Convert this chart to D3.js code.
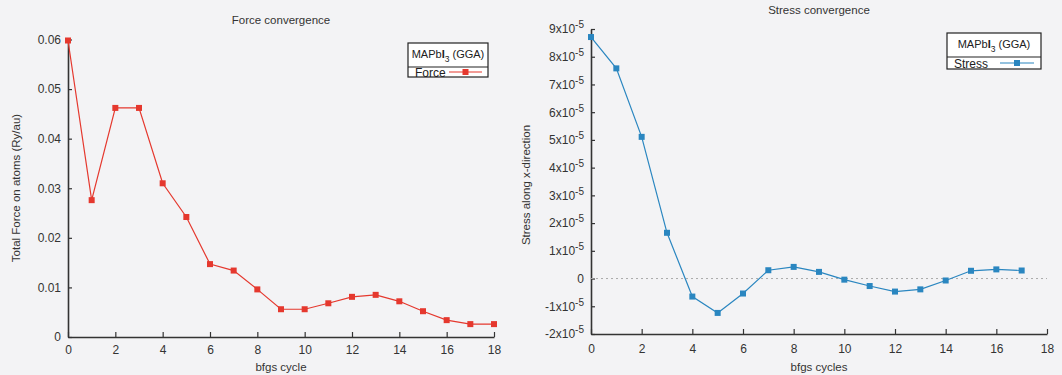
<!DOCTYPE html>
<html>
<head>
  <title>Force and stress convergence</title>
  <style>
    body { margin: 0; background: #f3f3f5; }
    svg { font-family: "Liberation Sans", Arial, sans-serif; }
  </style>
</head>
<body>
  <svg id="main" width="1062" height="375"></svg>

  <script src="https://cdn.jsdelivr.net/npm/d3@7.0.1/dist/d3.min.js"></script>
  <script>
    // force (Ry/au) per bfgs cycle
    const forceCycles = d3.range(0, 19)
    const forceValues = [0.0598, 0.0276, 0.0462, 0.0462, 0.0310, 0.0242, 0.0147, 0.0134, 0.0096,
      0.0056, 0.0056, 0.0068, 0.0081, 0.0085, 0.0072, 0.0052, 0.0034, 0.0026, 0.0026]

    // stress along x (units of 1e-5) per bfgs cycle
    const stressCycles = d3.range(0, 18)
    const stressValues = [8.71, 7.58, 5.11, 1.65, -0.65, -1.24, -0.54, 0.30, 0.42,
      0.24, -0.04, -0.27, -0.47, -0.39, -0.07, 0.28, 0.33, 0.29]

    const forceTicks = [0, 0.01, 0.02, 0.03, 0.04, 0.05, 0.06]
    const stressTicks = [-2, -1, 0, 1, 2, 3, 4, 5, 6, 7, 8, 9]
    const cycleTicks = [0, 2, 4, 6, 8, 10, 12, 14, 16, 18]

    const svg = d3.select('#main')
    const axisColor = '#333'
    const textColor = '#333'

    function panel(opt) {
      const g = svg.append('g')
      const x = d3.scaleLinear().domain([0, 18]).range([opt.x0, opt.x1])
      const y = d3.scaleLinear().domain(opt.yDomain).range([opt.y0, opt.y1])

      // y axis
      const yAxis = d3.axisLeft(y).tickValues(opt.yTicks).tickSizeInner(-4).tickSizeOuter(0)
        .tickPadding(7).tickFormat(opt.yFormat)
      const ya = g.append('g').attr('transform', `translate(${opt.x0},0)`).call(yAxis)
      // x axis
      const xAxis = d3.axisBottom(x).tickValues(cycleTicks).tickSizeInner(-5).tickSizeOuter(0)
        .tickPadding(opt.xPad)
      const xa = g.append('g').attr('transform', `translate(0,${opt.y0})`).call(xAxis)

      for (const a of [ya, xa]) {
        a.select('.domain').attr('stroke', axisColor).attr('stroke-width', 1.6)
        a.selectAll('.tick line').attr('stroke', axisColor).attr('stroke-width', 1.2)
        a.selectAll('.tick text').attr('fill', textColor).attr('font-size', 12)
          .attr('font-family', '"Liberation Sans", Arial, sans-serif')
      }
      if (opt.ySup) {
        ya.selectAll('.tick text').each(function (d) {
          const t = d3.select(this).text('')
          if (d === 0) { t.text('0'); return }
          t.append('tspan').text(d + 'x10')
          t.append('tspan').text('-5').attr('font-size', 10).attr('dy', -5)
        })
      }

      if (opt.zeroLine) {
        g.append('line').attr('x1', opt.x0).attr('x2', opt.x1)
          .attr('y1', y(0)).attr('y2', y(0))
          .attr('stroke', '#aaa').attr('stroke-width', 1).attr('stroke-dasharray', '2,3')
      }

      const pts = opt.xs.map((c, i) => ({ c: c, v: opt.values[i] }))
      g.append('path').datum(pts)
        .attr('fill', 'none').attr('stroke', opt.color).attr('stroke-width', 1.2)
        .attr('d', d3.line().x(d => x(d.c)).y(d => y(d.v)))
      g.selectAll('.pt').data(pts).join('rect')
        .attr('class', 'pt')
        .attr('x', d => x(d.c) - 3).attr('y', d => y(d.v) - 3)
        .attr('width', 6).attr('height', 6).attr('fill', opt.color)

      // titles
      g.append('text').text(opt.title).attr('x', opt.titleX).attr('y', opt.titleY)
        .attr('text-anchor', 'middle').attr('font-size', 11.5).attr('fill', textColor)
      g.append('text').text(opt.xLabel).attr('x', opt.titleX).attr('y', 371)
        .attr('text-anchor', 'middle').attr('font-size', 11.5).attr('fill', textColor)
      g.append('text').text(opt.yLabel)
        .attr('transform', `translate(${opt.yLabelX},${opt.yLabelY}) rotate(-90)`)
        .attr('text-anchor', 'middle').attr('font-size', 11.5).attr('fill', textColor)

      // legend
      const L = opt.legend
      const lg = g.append('g').attr('transform', `translate(${L.x},${L.y})`)
      lg.append('rect').attr('width', L.w).attr('height', L.h)
        .attr('fill', 'white').attr('stroke', '#222').attr('stroke-width', 1.2)
      lg.append('line').attr('x1', 0).attr('x2', L.w).attr('y1', L.sep).attr('y2', L.sep)
        .attr('stroke', '#222').attr('stroke-width', 1.2)
      const lt = lg.append('text').attr('x', L.w / 2).attr('y', L.sep - 9)
        .attr('text-anchor', 'middle').attr('font-size', 11).attr('fill', '#222')
      lt.append('tspan').text('MAPb')
      lt.append('tspan').text('I').attr('font-weight', 'bold')
      lt.append('tspan').text('3').attr('font-size', 8.5).attr('dy', 4)
      lt.append('tspan').text(' (GGA)').attr('dy', -4)
      const rowY = L.sep + (L.h - L.sep) / 2
      lg.append('text').text(opt.name).attr('x', 7).attr('y', rowY + 4.5)
        .attr('font-size', 12).attr('fill', '#222')
      lg.append('line').attr('x1', L.lineX0).attr('x2', L.lineX1).attr('y1', rowY).attr('y2', rowY)
        .attr('stroke', opt.color).attr('stroke-width', 1.2)
      lg.append('rect').attr('x', (L.lineX0 + L.lineX1) / 2 - 3).attr('y', rowY - 3)
        .attr('width', 6).attr('height', 6).attr('fill', opt.color)
    }

    panel({
      x0: 68, x1: 494, y0: 337, y1: 39.5, yDomain: [0, 0.06], yTicks: forceTicks,
      yFormat: d => d === 0 ? '0' : d3.format('.2f')(d), xPad: 8,
      xs: forceCycles, values: forceValues, color: '#e5382e', name: 'Force',
      title: 'Force convergence', titleX: 281, titleY: 24,
      xLabel: 'bfgs cycle', yLabel: 'Total Force on atoms (Ry/au)', yLabelX: 20, yLabelY: 188,
      legend: { x: 408, y: 43, w: 80, h: 34, sep: 24, lineX0: 41, lineX1: 74 }
    })

    panel({
      x0: 591, x1: 1047, y0: 334, y1: 29, yDomain: [-2, 9], yTicks: stressTicks,
      yFormat: d => d, ySup: true, xPad: 10, zeroLine: true,
      xs: stressCycles, values: stressValues, color: '#2a86c0', name: 'Stress',
      title: 'Stress convergence', titleX: 819, titleY: 14,
      xLabel: 'bfgs cycles', yLabel: 'Stress along x-direction', yLabelX: 530, yLabelY: 185,
      legend: { x: 947, y: 33, w: 94, h: 36, sep: 24, lineX0: 53, lineX1: 87 }
    })
  </script>
</body>
</html>
